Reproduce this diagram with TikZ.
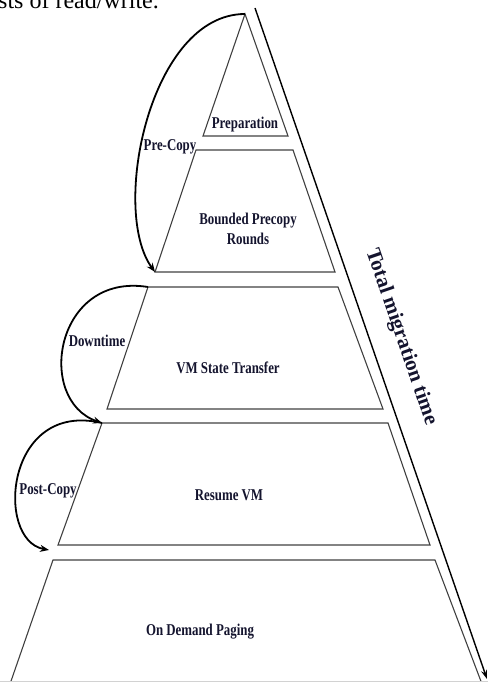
\documentclass[tikz,border=0pt]{standalone}
\usepackage{fontspec}
\setmainfont{Liberation Serif}
\newfontfamily\labfont[FakeStretch=0.78]{Liberation Serif}
\usetikzlibrary{arrows.meta}
\definecolor{txt}{rgb}{0.08,0.08,0.18}
\tikzset{
  layer/.style={draw=black!75, line width=1.1pt, line join=miter},
  lab/.style={font=\labfont\bfseries\fontsize{16.5}{20}\selectfont, text=txt, inner sep=0pt, align=center},
  phase/.style={line width=1.8pt, draw=black, -{Stealth[length=9pt,width=7pt]}},
  timeline/.style={line width=1.4pt, draw=black, -{Stealth[length=9pt,width=6pt]}}
}
\begin{document}
\begin{tikzpicture}[x=1pt,y=-1pt]
\useasboundingbox (0,0) rectangle (488,682);
% cropped caption line from the page
\node[anchor=base west, inner sep=0pt, font=\fontsize{24}{28}\selectfont] (cap) at (-2,9) {sts of read/write.};
% layer corners
\coordinate (apex) at (245,14);
\coordinate (pbl) at (203,136); \coordinate (pbr) at (288,136);
\coordinate (btl) at (196,150); \coordinate (btr) at (293,150);
\coordinate (bbl) at (155,272); \coordinate (bbr) at (335,272);
\coordinate (vtl) at (148,287); \coordinate (vtr) at (338,287);
\coordinate (vbl) at (107,409); \coordinate (vbr) at (383,409);
\coordinate (rtl) at (102,423); \coordinate (rtr) at (388,423);
\coordinate (rbl) at (58,545);  \coordinate (rbr) at (430,545);
\coordinate (otl) at (53,560);  \coordinate (otr) at (435,560);
\coordinate (obl) at (10,684);  \coordinate (obr) at (482,684);
% layers
\draw[layer] (apex) -- (pbr) -- (pbl) -- cycle;
\draw[layer] (btl) -- (btr) -- (bbr) -- (bbl) -- cycle;
\draw[layer] (vtl) -- (vtr) -- (vbr) -- (vbl) -- cycle;
\draw[layer] (rtl) -- (rtr) -- (rbr) -- (rbl) -- cycle;
\draw[layer] (obl) -- (otl) -- (otr) -- (obr);
\draw[gray!35, line width=1pt] (0,681) -- (488,681);
% labels
\node[lab] (prep) at (245,125) {Preparation};
\node[lab] (bpr) at (248,229) {Bounded Precopy\\Rounds};
\node[lab] (vst) at (228,368) {VM State Transfer};
\node[lab] (rvm) at (229,495) {Resume VM};
\node[lab] (odp) at (200,632) {On Demand Paging};
\node[lab] (pre) at (170,147) {Pre-Copy};
\node[lab] (down) at (97,341) {Downtime};
\node[lab] (post) at (48,491) {Post-Copy};
% phase arcs
\draw[phase] (apex) .. controls (150,14) and (110,210) .. (bbl);
\draw[phase] (vtl) .. controls (55,272) and (35,400) .. (rtl);
\draw[phase] (rtl) .. controls (5,400) and (-5,540) .. ([xshift=-4pt,yshift=10pt]otl);
% total migration time
\coordinate (ttop) at (255,8);
\coordinate (tbot) at (487,679);
\draw[timeline] (ttop) -- (tbot);
\node[font=\bfseries\fontsize{21}{24}\selectfont, text=txt, inner sep=0pt, rotate=-71] (tmt) at (401,337) {Total migration time};
\end{tikzpicture}
\end{document}
